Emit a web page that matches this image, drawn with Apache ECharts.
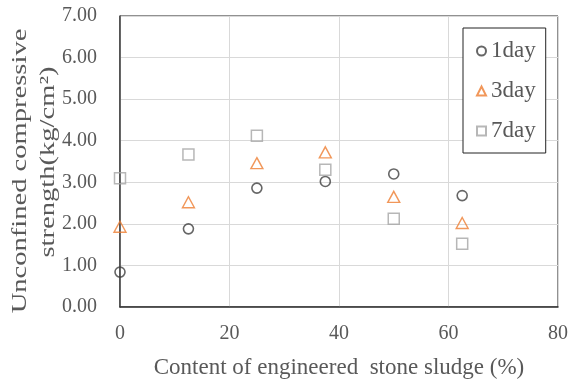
<!DOCTYPE html>
<html>
<head>
<meta charset="utf-8">
<script src="https://cdn.jsdelivr.net/npm/echarts@6/dist/echarts.min.js"></script>
<style>
html,body{margin:0;padding:0;background:#fff;}
#chart{width:571px;height:385px;}
</style>
</head>
<body>
<div id="chart"></div>
<script>
// Data
var xValues = [0, 12.5, 25, 37.5, 50, 62.5];
var day1 = [0.84, 1.88, 2.86, 3.02, 3.20, 2.68];
var day3 = [1.93, 2.52, 3.46, 3.72, 2.65, 2.02];
var day7 = [3.10, 3.67, 4.12, 3.30, 2.12, 1.52];
var seriesNames = ['1day', '3day', '7day'];
var xTitle = 'Content of engineered  stone sludge (%)';
var yTitle1 = 'Unconfined compressive';
var yTitle2 = 'strength(kg/cm\u00B2)';

function pairs(ys) { return xValues.map(function (x, i) { return [x, ys[i]]; }); }

var font = '"Liberation Serif", "Times New Roman", serif';
var textColor = '#595959';

var chart = echarts.init(document.getElementById('chart'));
chart.setOption({
  animation: false,
  backgroundColor: '#fff',
  textStyle: { fontFamily: font },
  grid: { left: 120, right: 11, top: 16, bottom: 78, show: true, borderColor: '#222', borderWidth: 1, backgroundColor: 'transparent' },
  xAxis: {
    type: 'value', min: 0, max: 80, interval: 20,
    name: xTitle, nameLocation: 'middle', nameGap: 49,
    nameTextStyle: { fontFamily: font, fontSize: 23, color: textColor },
    axisLine: { show: true, onZero: false, lineStyle: { color: '#333', width: 1.5 } },
    axisTick: { show: false },
    axisLabel: { fontFamily: font, fontSize: 20, color: textColor, margin: 17 },
    splitLine: { show: true, lineStyle: { color: '#d9d9d9', width: 1 } }
  },
  yAxis: {
    type: 'value', min: 0, max: 7, interval: 1,
    axisLine: { show: true, onZero: false, lineStyle: { color: '#404040', width: 1.5 } },
    axisTick: { show: false },
    axisLabel: { fontFamily: font, fontSize: 20, color: textColor, margin: 23, formatter: function (v) { return v.toFixed(2); } },
    splitLine: { show: true, lineStyle: { color: '#d9d9d9', width: 1 } }
  },
  legend: {
    orient: 'vertical', left: 463, top: 28,
    padding: [11, 10, 10, 13],
    itemGap: 16, itemWidth: 9, itemHeight: 9,
    backgroundColor: '#fff', borderColor: '#222', borderWidth: 1,
    textStyle: { fontFamily: font, fontSize: 23, color: textColor, lineHeight: 24 },
    data: seriesNames
  },
  graphic: [
    { type: 'text', x: 20, y: 171, rotation: Math.PI / 2, scaleX: 1.36, scaleY: 1,
      style: { text: yTitle1, font: '21px ' + font, fill: textColor, textAlign: 'center', textVerticalAlign: 'middle' } },
    { type: 'text', x: 48, y: 162, rotation: Math.PI / 2, scaleX: 1.36, scaleY: 1,
      style: { text: yTitle2, font: '21px ' + font, fill: textColor, textAlign: 'center', textVerticalAlign: 'middle' } }
  ],
  series: [
    { name: seriesNames[0], type: 'scatter', data: pairs(day1), symbol: 'circle', symbolSize: 10,
      itemStyle: { color: 'rgba(255,255,255,0)', borderColor: '#404040', borderWidth: 1.6 } },
    { name: seriesNames[1], type: 'scatter', data: pairs(day3), symbol: 'triangle', symbolSize: [12, 11],
      itemStyle: { color: 'rgba(255,255,255,0)', borderColor: '#ED7D31', borderWidth: 1.4 } },
    { name: seriesNames[2], type: 'scatter', data: pairs(day7), symbol: 'rect', symbolSize: 11,
      itemStyle: { color: 'rgba(255,255,255,0)', borderColor: '#A5A5A5', borderWidth: 1.5 } }
  ]
});
</script>
</body>
</html>
